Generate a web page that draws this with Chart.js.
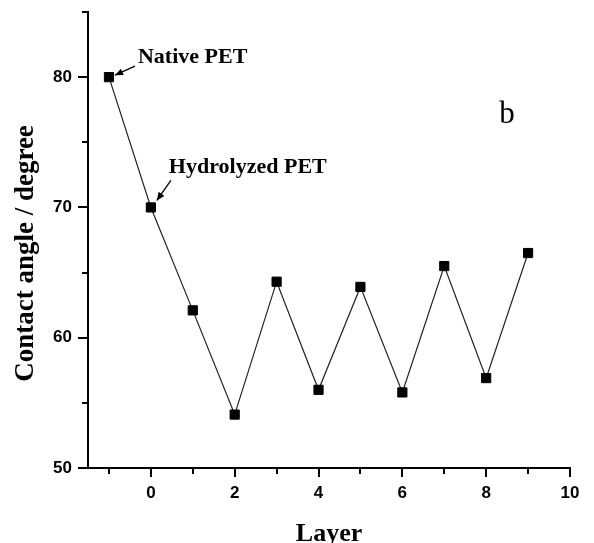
<!DOCTYPE html>
<html><head><meta charset="utf-8">
<script src="https://cdn.jsdelivr.net/npm/chart.js@4.4.0/dist/chart.umd.min.js"></script>
<style>html,body{margin:0;padding:0;background:#fff}</style>
</head><body>
<canvas id="c" width="594" height="543"></canvas>
<script>
const layers = [-1, 0, 1, 2, 3, 4, 5, 6, 7, 8, 9];
const contactAngle = [80, 70, 62.1, 54.1, 64.3, 56.0, 63.9, 55.8, 65.5, 56.9, 66.5];
const xMajorTicks = [0, 2, 4, 6, 8, 10];
const xMinorTicks = [-1, 1, 3, 5, 7, 9];
const yMajorTicks = [50, 60, 70, 80];
const yMinorTicks = [55, 65, 75, 85];
const annotationLayers = [-1, 0];
const annotationTexts = ['Native PET', 'Hydrolyzed PET'];
const panelLabel = 'b';

const points = layers.map((x, i) => ({x: x, y: contactAngle[i]}));

const tickPlugin = {
  id: 'ticksAndNotes',
  afterDraw(chart) {
    const ctx = chart.ctx;
    const xs = chart.scales.x, ys = chart.scales.y;
    const ca = chart.chartArea;
    ctx.save();
    ctx.strokeStyle = '#000';
    ctx.lineWidth = 2;
    ctx.beginPath();
    xMajorTicks.forEach(v => { const p = Math.round(xs.getPixelForValue(v)); ctx.moveTo(p, ca.bottom); ctx.lineTo(p, ca.bottom + 9); });
    xMinorTicks.forEach(v => { const p = Math.round(xs.getPixelForValue(v)); ctx.moveTo(p, ca.bottom); ctx.lineTo(p, ca.bottom + 6); });
    yMajorTicks.forEach(v => { const p = Math.round(ys.getPixelForValue(v)); ctx.moveTo(ca.left, p); ctx.lineTo(ca.left - 10, p); });
    yMinorTicks.forEach(v => { const p = Math.round(ys.getPixelForValue(v)); ctx.moveTo(ca.left, p); ctx.lineTo(ca.left - 6, p); });
    ctx.stroke();

    // annotations
    const offs = [
      {tx: 29, ty: -14, ax0: 26, ay0: -11, ax1: 6, ay1: -2},
      {tx: 18, ty: -34, ax0: 20, ay0: -27, ax1: 6, ay1: -7}
    ];
    ctx.fillStyle = '#000';
    ctx.font = 'bold 22px "Liberation Serif", "Times New Roman", serif';
    ctx.textBaseline = 'alphabetic';
    ctx.textAlign = 'left';
    annotationLayers.forEach((lx, i) => {
      const idx = layers.indexOf(lx);
      const px = xs.getPixelForValue(lx), py = ys.getPixelForValue(contactAngle[idx]);
      const o = offs[i];
      ctx.fillText(annotationTexts[i], px + o.tx, py + o.ty);
      const x0 = px + o.ax0, y0 = py + o.ay0, x1 = px + o.ax1, y1 = py + o.ay1;
      ctx.lineWidth = 1.3;
      ctx.beginPath(); ctx.moveTo(x0, y0); ctx.lineTo(x1, y1); ctx.stroke();
      const ang = Math.atan2(y1 - y0, x1 - x0);
      const L = 8, W = 3.5;
      ctx.beginPath();
      ctx.moveTo(x1, y1);
      ctx.lineTo(x1 - L * Math.cos(ang) + W * Math.sin(ang), y1 - L * Math.sin(ang) - W * Math.cos(ang));
      ctx.lineTo(x1 - L * Math.cos(ang) - W * Math.sin(ang), y1 - L * Math.sin(ang) + W * Math.cos(ang));
      ctx.closePath(); ctx.fill();
    });

    ctx.font = '31px "Liberation Serif", "Times New Roman", serif';
    ctx.fillText(panelLabel, xs.getPixelForValue(8.31), ys.getPixelForValue(76.5));
    ctx.restore();
  }
};

new Chart(document.getElementById('c'), {
  type: 'scatter',
  data: {
    datasets: [{
      data: points,
      showLine: true,
      borderColor: '#222',
      borderWidth: 1.2,
      pointStyle: 'rect',
      pointRadius: 6.5,
      pointHoverRadius: 6.5,
      pointBackgroundColor: '#000',
      pointBorderColor: '#000',
      pointBorderWidth: 1
    }]
  },
  options: {
    responsive: false,
    animation: false,
    devicePixelRatio: 1,
    layout: {padding: {left: 0, top: 12, right: 24, bottom: 0}},
    plugins: {legend: {display: false}, tooltip: {enabled: false}},
    scales: {
      x: {
        type: 'linear', min: -1.5, max: 10,
        afterFit: s => { s.height = 75; s.paddingLeft = 0; s.paddingRight = 0; s.paddingTop = 0; s.paddingBottom = 0; },
        afterBuildTicks: s => { s.ticks = xMajorTicks.map(v => ({value: v})); },
        grid: {display: false, drawTicks: false},
        border: {display: true, color: '#000', width: 2},
        ticks: {padding: 15, color: '#000', font: {family: '"Liberation Sans", Arial, sans-serif', size: 17, weight: 'bold'}},
        title: {display: true, text: 'Layer', color: '#000', padding: {top: 0, bottom: 0},
          font: {family: '"Liberation Serif", "Times New Roman", serif', size: 26, weight: 'bold', lineHeight: 0.7}}
      },
      y: {
        type: 'linear', min: 50, max: 85,
        afterFit: s => { s.width = 88; s.paddingLeft = 0; s.paddingRight = 0; s.paddingTop = 0; s.paddingBottom = 0; },
        afterBuildTicks: s => { s.ticks = yMajorTicks.map(v => ({value: v})); },
        grid: {display: false, drawTicks: false},
        border: {display: true, color: '#000', width: 2},
        ticks: {padding: 16, color: '#000', font: {family: '"Liberation Sans", Arial, sans-serif', size: 17, weight: 'bold'}},
        title: {display: true, text: 'Contact angle / degree\u00A0\u00A0\u00A0\u00A0', color: '#000', padding: {top: 13, bottom: 0},
          font: {family: '"Liberation Serif", "Times New Roman", serif', size: 27, weight: 'bold', lineHeight: 1}}
      }
    }
  },
  plugins: [tickPlugin]
});
</script>
</body></html>
